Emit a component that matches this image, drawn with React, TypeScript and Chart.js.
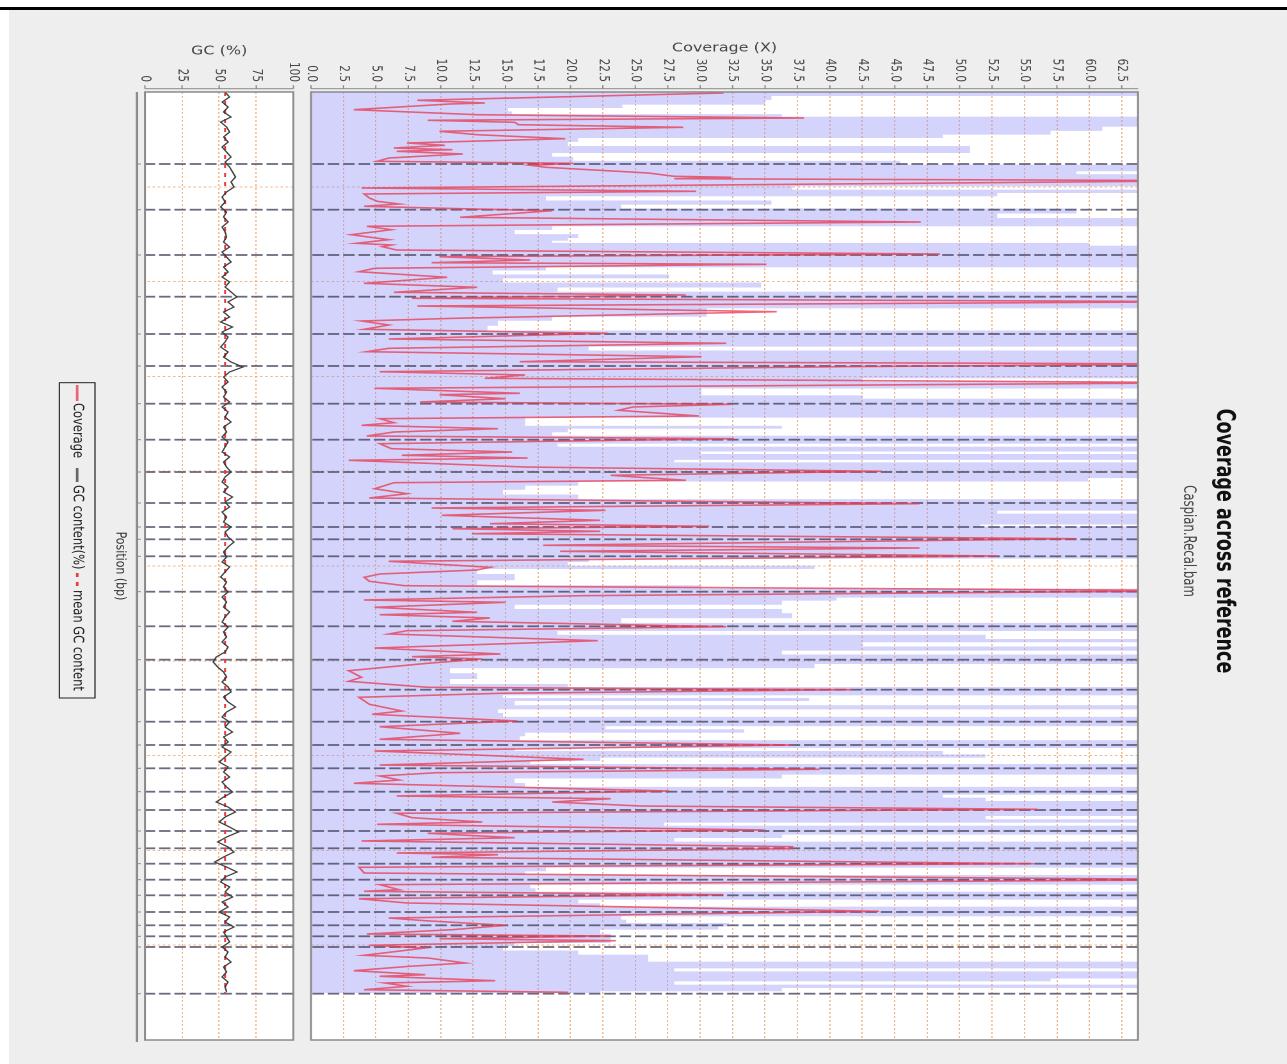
import React, { useEffect, useRef } from "react";
import { Chart, registerables } from "chart.js";

Chart.register(...registerables);

// ---------------- data ----------------
const TITLE = "Coverage across reference";
const SUBTITLE = "Caspian.Recal.bam";
const COVERAGE_AXIS_TITLE = "Coverage (X)";
const GC_AXIS_TITLE = "GC (%)";
const POSITION_AXIS_TITLE = "Position (bp)";
const LEGEND_LABELS = ["Coverage", "GC content(%)", "mean GC content"];

const POSITION_MAX = 948;
const POSITION_GRID_STEP = 95.25;
const COVERAGE_MAX = 63.75;
const COVERAGE_TICK_STEP = 2.5;
const GC_TICK_STEP = 25;
const MEAN_GC = 54;
const DATA_END = 901;

// window positions (arbitrary position units) and mean coverage
const COV_POS = [
  1, 8.3, 11, 12, 17.7, 22.7, 26, 28.3, 30.3, 32.7, 35.3, 39.3, 42.7, 46.7, 51, 53.3, 56, 57.7, 59.3, 62,
  66, 69.3, 71.3, 73.3, 75.3, 81, 84.3, 85.3, 86.7, 88.7, 96, 99.3, 102, 106, 109.3, 112, 114.3, 116.7, 118.7, 125.3,
  130, 134.3, 137.7, 142.7, 147.7,
  151.3, 153, 154.7, 158, 162, 164.7, 168, 170.7, 172.3, 176.3, 179.7, 185.3, 191.3, 195.3, 200.3, 203, 206.3, 209.7, 214, 219.7,
  226.3, 229, 233, 237.3, 241.3, 247, 251.3, 256.3, 259.7, 264.7, 269.7, 272, 274.7, 279.7, 283, 286.3, 290.7, 296.3,
  301.3, 302.7, 306.7, 310, 312.3, 315, 318.3, 324, 326.7, 330.7, 333.3, 336.7, 340, 344, 346.7, 351.7, 356.7, 360, 363.3, 366,
  368.3, 375, 379.3, 383.3, 388.3, 390.7, 396.7, 401.7, 406, 411.7, 416, 418.3, 423.3, 428.3, 431.7, 434.3, 436.7, 439.3, 441.7, 446.7,
  453.3,
  456, 459.3, 464, 469.3, 475.3, 478, 482, 485.3, 489.3, 493.7, 498.7, 503.7, 508, 510.3, 515.3, 520.3, 522.7, 526, 529.3, 534.7,
  538.7, 542, 548.7, 556, 562, 564.7, 567, 571.3, 578.7, 585.3, 589.3, 595.3, 597.7, 601.3, 605.3,
  612.3, 619, 622.3, 629, 634.7, 641.3, 647.3, 653, 659, 667.3, 673, 677.3, 680.7, 684, 688, 691.3, 699, 704, 706.7, 710,
  714, 717.3, 721.3, 725.7, 730, 732.3, 738, 741.3, 745.7, 749, 754.7, 756.7,
  761, 762.7, 765.3, 771.7, 775.3, 781, 787.7, 792.7, 797.7, 799.3, 802.7, 806.7, 811, 819.3, 826, 828.7, 833.3, 837.7, 842, 844,
  846.7, 848.7, 853.3, 856, 863.3, 866, 871, 874.3, 878.7, 882.7, 884.3, 888.7, 891, 894.3, 897.7, 900.3,
];
const COV_MEAN = [
  31.8, 8.2, 13.4, 10.7, 3.3, 12.8, 38, 9.0, 15.7, 16, 28.7, 9.9, 12.8, 19.6, 7.4, 10.3, 6.4, 10.9, 6.6, 11.7,
  6, 5.1, 20.2, 16.9, 18.1, 26, 28, 32.4, 28, 70, 3.9, 29.7, 4.1, 4.5, 5.1, 6.8, 4.1, 11.5, 18.6, 11.5,
  47, 4.3, 6.2, 3.1, 6,
  3.5, 6.2, 5.5, 6.6, 48.5, 9.9, 16.9, 9.3, 35.1, 4.9, 3.7, 10.5, 4.1, 12.8, 6.4, 28.9, 7.8, 70, 8.2, 35.9,
  11.1, 3.9, 6, 4.1, 22.9, 6, 32, 6, 4.3, 30.1, 16.1, 70, 41, 5.3, 16.5, 13.4, 70, 4.9,
  16.1, 9.9, 15, 8.4, 32.4, 24.8, 23.7, 29.9, 5.3, 6.4, 3.9, 14.4, 6.4, 4.3, 32.6, 5.3, 6.2, 15.5, 7, 16.7,
  2.9, 16.5, 44, 23.1, 28.9, 6.4, 4.9, 7.4, 4.5, 46.9, 9.3, 22.7, 10.1, 22.3, 13.8, 30.7, 10.9, 22.3, 12.4, 59,
  17.9,
  46.9, 19.2, 52.9, 6, 13.8, 12.8, 5.3, 4.1, 4.5, 7.2, 70, 20.8, 4.1, 15, 4.9, 12.8, 5.3, 13.8, 10.9, 32,
  7.4, 6, 22.1, 4.9, 14.6, 7.8, 13.2, 9, 2.9, 3.9, 2.9, 9, 41.7, 14.6, 3.7,
  4.5, 7, 4.7, 15.9, 5.3, 11.5, 5.3, 37.1, 4.9, 21, 5.3, 39.2, 9.7, 5.3, 6.8, 3.3, 27.6, 6.6, 23.1, 18.6,
  25.4, 56, 6.6, 7.8, 13.2, 5.1, 34.9, 9, 15.7, 3.9, 37.1, 37.1,
  6.6, 14.4, 9.3, 55.7, 3.7, 4.1, 70, 5.3, 6.8, 4.1, 31.8, 3.7, 7.4, 43.8, 6, 8.8, 15, 10.9, 4.3, 23.1,
  9.9, 23.5, 4.5, 8.8, 4.1, 9, 11.9, 7.6, 3.3, 8.8, 5.3, 14.2, 5.7, 7.4, 4.1, 19.8,
];

// upper edge of the shaded coverage band (mean + std)
const BAND_POS = [
  0, 2.7, 5.3, 11, 14.3, 17.7, 21, 23.3, 26, 32.7, 36.7, 41, 44.3, 47.7, 52, 56, 59.3, 62.7, 66.7, 71,
  74.3, 77.7, 81, 83.3, 92.7, 96, 99.3, 102.7, 106, 111, 114.3, 118.7, 124.3, 127.7, 132.7, 136, 140, 144.3, 147.7,
  149.7, 152, 155.3, 174, 176.7, 180.3, 184.7, 188, 193, 198, 201.3, 214.7, 218, 223, 226.3, 231.3, 236.3, 240.7, 253, 256.3,
  260.7, 284.7, 288, 291.3,
  301.7, 305, 308.3, 324, 327.3, 332.7, 335, 338.3, 342.3, 345, 350, 353.3, 356, 358.3, 360.7, 363.3, 366.7, 369, 371.7, 385,
  387.3, 391.7, 395.7, 400, 405, 409.3, 417.3, 420, 423.3, 431.7, 433.3, 435.7,
  465.3, 468, 472, 475.3, 478.7, 485.3, 491.3, 495.3, 498, 504.3, 507, 510.3, 515.3, 518.7, 523.7, 528.7, 533, 537.7, 540.3, 545.3,
  548.7, 552, 557, 560.3, 564.7, 570.3, 573.7, 578.7, 583.7, 590.3, 593.7, 596.3,
  602, 604.7, 607.3, 610.7, 615.7, 619, 623, 626.7, 632.7, 635.7, 639, 642.3, 646.3, 650, 654.7, 657.3, 660.7, 664, 667.3, 670.7,
  673.3, 681.3, 684, 689, 693, 696.7, 701.3, 704, 707.3, 710.7, 720, 722.3, 725.7, 729, 732.3, 735, 741.3, 744, 748, 751.3,
  759.3, 766, 774.3, 777, 781.7, 784.3, 791, 794.3, 798.3, 801, 806, 809.3, 813.3, 816, 822.7, 826, 829.3, 832.7, 836, 839.3,
  844.3, 849.3, 852.7, 856, 861, 864.3, 868.3, 871, 875, 877.7, 881, 885.3, 887.7, 891, 894.3, 897.7, 901,
];
const BAND_UPPER = [
  80, 80, 35.5, 35, 24, 15.2, 15.5, 36.3, 80, 80, 61, 57, 48.7, 20.6, 19.8, 50.8, 50.8, 18.6, 20.2, 45.4,
  80, 80, 59, 80, 80, 37.1, 80, 52.9, 18.1, 35.5, 23.9, 59, 52.9, 80, 80, 18.6, 15.7, 20.6, 19.8,
  18.6, 60, 80, 80, 18.1, 14, 27.6, 14.8, 34.7, 19, 80, 80, 30.5, 30.5, 18.6, 14.4, 13.6, 80, 80, 21.4,
  80, 80, 42.5, 80,
  30.1, 42.5, 80, 80, 16.5, 16.5, 36.3, 19.8, 18.6, 80, 80, 19, 80, 80, 30, 80, 80, 28, 80, 80,
  59.9, 20.6, 16.5, 14.8, 20.6, 80, 80, 52.9, 80, 80, 51.6, 80,
  80, 21.4, 19.8, 38.8, 12.8, 15.7, 12.8, 30.1, 80, 80, 40.5, 36.3, 15.7, 36.3, 37.1, 23.9, 80, 80, 19, 52,
  80, 42.5, 80, 36.3, 80, 80, 38.8, 10.7, 12.8, 10.7, 19.8, 80,
  80, 14.8, 38.4, 15.7, 80, 14.4, 14.8, 80, 80, 22.7, 33.4, 16.5, 16.1, 80, 80, 15.7, 48.7, 52, 22.3, 16.9,
  80, 80, 36.3, 15.7, 16.5, 80, 80, 48.7, 52, 80, 80, 80, 52, 80, 27.2, 80, 80, 36.3, 28, 80,
  80, 80, 80, 18.1, 16.5, 80, 80, 16.9, 17.3, 80, 80, 20.6, 22.3, 80, 80, 23.9, 24.3, 32.2, 31.4, 22.3,
  23.1, 23.1, 15.7, 14.8, 20.6, 26, 26, 80, 80, 28, 80, 80, 57, 28, 80, 36.3, 22.3,
];

// GC content (%) per window, windows every GC_WINDOW position units
const GC_WINDOW = 5;
const GC_VALUES = [
  54, 57, 52, 56, 53, 58, 51, 55, 57, 53,
  56, 52, 55, 58, 54, 57, 59, 61, 58, 60,
  55, 52, 54, 51, 55, 53, 56, 52, 54, 55,
  53, 57, 52, 55, 58, 53, 56, 52, 57, 54,
  58, 62, 56, 60, 53, 57, 51, 59, 52, 56,
  54, 51, 56, 53, 58, 66, 57, 53, 56, 52,
  55, 53, 57, 52, 56, 54, 58, 53, 55, 52,
  56, 54, 52, 57, 53, 55, 58, 54, 52, 56,
  53, 59, 54, 57, 52, 55, 53, 58, 54, 56,
  60, 56, 53, 55, 52, 57, 54, 51, 55, 53,
  56, 52, 55, 53, 57, 54, 52, 56, 53, 55,
  52, 56, 54, 48, 46, 49, 53, 55, 52, 56,
  58, 53, 56, 61, 55, 52, 57, 54, 59, 53,
  56, 52, 58, 54, 50, 56, 53, 57, 52, 55,
  59, 53, 48, 56, 61, 54, 50, 57, 63, 55,
  49, 56, 60, 53, 47, 55, 62, 54, 51, 57,
  54, 59, 52, 56, 50, 57, 54, 60, 53, 55,
  57, 52, 56, 54, 58, 53, 55, 52, 56, 54,
  55,
];

// reference sequence (contig) boundaries
const CONTIG_BOUNDS = [
  72, 117.7, 163, 204.7, 242, 274, 311.7, 347.7, 380, 411, 435, 447.3, 464.3, 499.7, 534.3, 567.7, 597.7,
  629.7, 653, 676.3, 699.7, 718, 739, 756.3, 771.7, 787.7, 803.3, 820, 833.3, 844.3, 855, 901.7,
];

// ---------------- styles ----------------
const STRETCH = 1.28;
const RED = "rgba(232, 62, 84, 0.78)";
const BAND = "rgba(150, 150, 245, 0.42)";
const GC_LINE = "rgba(55, 55, 55, 0.95)";
const GRID = "rgba(236, 165, 110, 0.8)";
const BOUND = "rgba(70, 70, 95, 0.8)";
const FRAME = "#8a8a8a";
const SANS = "'DejaVu Sans', sans-serif";
const TICK_FONT = { family: SANS, size: 10.5 };
const AXIS_TITLE_FONT = { family: SANS, size: 12.5 };

function paintPlotBackground(chart: any) {
  const { ctx, chartArea: a } = chart;
  ctx.save();
  ctx.fillStyle = "#ffffff";
  ctx.fillRect(a.left, a.top, a.right - a.left, a.bottom - a.top);
  ctx.restore();
}

function drawBounds(chart: any) {
  const { ctx, chartArea: a, scales } = chart;
  ctx.save();
  ctx.beginPath();
  ctx.rect(a.left, a.top, a.right - a.left, a.bottom - a.top);
  ctx.clip();
  ctx.strokeStyle = BOUND;
  ctx.lineWidth = 1.8;
  ctx.setLineDash([9, 3]);
  CONTIG_BOUNDS.forEach((b) => {
    const x = scales.x.getPixelForValue(b);
    ctx.beginPath();
    ctx.moveTo(x, a.top);
    ctx.lineTo(x, a.bottom);
    ctx.stroke();
  });
  ctx.restore();
}

function drawFrameAndAxis(chart: any) {
  const { ctx, chartArea: a, scales } = chart;
  ctx.save();
  ctx.setLineDash([]);
  ctx.strokeStyle = FRAME;
  ctx.lineWidth = 1.5;
  ctx.strokeRect(a.left, a.top, a.right - a.left, a.bottom - a.top);
  const ax = a.left - 3.3;
  ctx.lineWidth = 1;
  ctx.beginPath();
  ctx.moveTo(ax, a.top);
  ctx.lineTo(ax, a.bottom);
  scales.y.ticks.forEach((t: any) => {
    const y = scales.y.getPixelForValue(t.value);
    ctx.moveTo(ax - 3.5, y);
    ctx.lineTo(ax, y);
  });
  ctx.stroke();
  ctx.restore();
}

const coverageDecor = {
  id: "coverageDecor",
  beforeDraw(chart: any) {
    paintPlotBackground(chart);
  },
  afterDatasetDraw(chart: any, args: any) {
    if (args.index === 1) drawBounds(chart);
  },
  afterDraw(chart: any) {
    drawFrameAndAxis(chart);
    const { ctx } = chart;
    ctx.save();
    ctx.textAlign = "center";
    ctx.textBaseline = "middle";
    ctx.fillStyle = "#111";
    ctx.font = "bold 19.5px 'DejaVu Sans Condensed', 'Liberation Sans Narrow', 'Liberation Sans', sans-serif";
    ctx.fillText(TITLE, 531, 49.2);
    ctx.fillStyle = "#444";
    ctx.font = "13px 'DejaVu Sans Condensed', 'Liberation Sans Narrow', 'Liberation Sans', sans-serif";
    ctx.fillText(SUBTITLE, 531, 77.3);
    ctx.restore();
  },
};

const gcDecor = {
  id: "gcDecor",
  beforeDraw(chart: any) {
    paintPlotBackground(chart);
  },
  beforeDatasetsDraw(chart: any) {
    drawBounds(chart);
  },
  afterDraw(chart: any) {
    drawFrameAndAxis(chart);
    const { ctx, chartArea: a, scales } = chart;
    ctx.save();
    // position axis line below the GC panel
    const py = a.bottom + 6.25;
    ctx.strokeStyle = "#8a8a8a";
    ctx.lineWidth = 1.8;
    ctx.beginPath();
    ctx.moveTo(a.left, py);
    ctx.lineTo(a.right + 2, py);
    ctx.stroke();
    ctx.lineWidth = 1;
    ctx.beginPath();
    CONTIG_BOUNDS.forEach((b) => {
      const x = scales.x.getPixelForValue(b);
      ctx.moveTo(x, py - 3);
      ctx.lineTo(x, py);
    });
    ctx.stroke();
    // legend
    const top = 171.25;
    const bottom = 199.1;
    const cy = (top + bottom) / 2;
    ctx.strokeStyle = "#222";
    ctx.lineWidth = 1;
    ctx.strokeRect(372.7, top, 688 - 372.7, bottom - top);
    ctx.font = "11.5px " + SANS;
    ctx.textAlign = "left";
    ctx.textBaseline = "middle";
    ctx.fillStyle = "#222";
    const items = [
      { x0: 375, x1: 391, tx: 393, color: RED, dash: [] as number[], label: LEGEND_LABELS[0] },
      { x0: 458, x1: 472, tx: 475, color: "#666", dash: [] as number[], label: LEGEND_LABELS[1] },
      { x0: 563, x1: 578, tx: 580, color: "rgb(235, 60, 60)", dash: [4, 5], label: LEGEND_LABELS[2] },
    ];
    items.forEach((it) => {
      ctx.strokeStyle = it.color;
      ctx.lineWidth = 2;
      ctx.setLineDash(it.dash);
      ctx.beginPath();
      ctx.moveTo(it.x0, cy);
      ctx.lineTo(it.x1, cy);
      ctx.stroke();
      ctx.setLineDash([]);
      ctx.fillText(it.label, it.tx, cy);
    });
    ctx.restore();
  },
};

function positionScale(height: number, withTitle: boolean, titlePadBottom: number) {
  return {
    type: "linear",
    min: 0,
    max: POSITION_MAX,
    ticks: { display: false, stepSize: POSITION_GRID_STEP, includeBounds: false },
    grid: { color: GRID, drawTicks: false, lineWidth: 1 },
    border: { display: false, dash: [2, 2] },
    title: {
      display: withTitle,
      text: POSITION_AXIS_TITLE,
      color: "#333",
      font: { family: SANS, size: 11 },
      padding: { top: 0, bottom: titlePadBottom },
    },
    afterFit: (s: any) => {
      s.height = height;
    },
  };
}

export default function App() {
  const refA = useRef<HTMLCanvasElement>(null);
  const refB = useRef<HTMLCanvasElement>(null);

  useEffect(() => {
    const covData = COV_POS.map((x, i) => ({ x, y: COV_MEAN[i] }));
    const bandData = BAND_POS.map((x, i) => ({ x, y: BAND_UPPER[i] }));
    const gcData = GC_VALUES.map((y, i) => ({ x: i * GC_WINDOW, y }));
    const meanData = [
      { x: 0, y: MEAN_GC },
      { x: DATA_END, y: MEAN_GC },
    ];

    const chartA = new Chart(refA.current as HTMLCanvasElement, {
      type: "line",
      data: {
        datasets: [
          {
            label: LEGEND_LABELS[0],
            data: covData,
            borderColor: RED,
            borderWidth: 1.6,
            pointRadius: 0,
            fill: false,
            tension: 0,
          },
          {
            label: "Coverage band",
            data: bandData,
            borderColor: "rgba(0,0,0,0)",
            borderWidth: 0,
            backgroundColor: BAND,
            fill: "origin",
            stepped: "middle",
            pointRadius: 0,
          },
        ],
      },
      options: {
        responsive: false,
        animation: false,
        devicePixelRatio: 2,
        events: [],
        layout: { padding: { top: 116.4, right: 24, bottom: 17.5, left: 0 } },
        plugins: { legend: { display: false }, tooltip: { enabled: false }, title: { display: false } },
        scales: {
          x: positionScale(0, false, 0),
          y: {
            type: "linear",
            min: 0,
            max: COVERAGE_MAX,
            ticks: {
              stepSize: COVERAGE_TICK_STEP,
              includeBounds: false,
              autoSkip: false,
              padding: 10,
              color: "#444",
              font: TICK_FONT,
              callback: (v: any) => Number(v).toFixed(1),
            },
            grid: { color: GRID, drawTicks: false, lineWidth: 1 },
            border: { display: false, dash: [2, 2] },
            title: {
              display: true,
              text: COVERAGE_AXIS_TITLE,
              color: "#444",
              font: AXIS_TITLE_FONT,
              padding: { top: 30.5, bottom: 0 },
            },
            afterFit: (s: any) => {
              s.width = 82;
            },
          },
        },
      } as any,
      plugins: [coverageDecor],
    } as any);

    const chartB = new Chart(refB.current as HTMLCanvasElement, {
      type: "line",
      data: {
        datasets: [
          {
            label: LEGEND_LABELS[1],
            data: gcData,
            borderColor: GC_LINE,
            borderWidth: 1.2,
            pointRadius: 0,
            fill: false,
            tension: 0,
          },
          {
            label: LEGEND_LABELS[2],
            data: meanData,
            borderColor: "rgb(235, 60, 60)",
            borderWidth: 1.6,
            borderDash: [4, 5],
            pointRadius: 0,
            fill: false,
          },
        ],
      },
      options: {
        responsive: false,
        animation: false,
        devicePixelRatio: 2,
        events: [],
        layout: { padding: { top: 12.7, right: 24, bottom: 75.8, left: 0 } },
        plugins: { legend: { display: false }, tooltip: { enabled: false }, title: { display: false } },
        scales: {
          x: positionScale(30, true, 3.9),
          y: {
            type: "linear",
            min: 0,
            max: 100,
            ticks: {
              stepSize: GC_TICK_STEP,
              autoSkip: false,
              padding: 10,
              color: "#444",
              font: TICK_FONT,
            },
            grid: { color: GRID, drawTicks: false, lineWidth: 1 },
            border: { display: false, dash: [2, 2] },
            title: {
              display: true,
              text: GC_AXIS_TITLE,
              color: "#444",
              font: AXIS_TITLE_FONT,
              padding: { top: 33.5, bottom: 0 },
            },
            afterFit: (s: any) => {
              s.width = 82;
            },
          },
        },
      } as any,
      plugins: [gcDecor],
    } as any);

    return () => {
      chartA.destroy();
      chartB.destroy();
    };
  }, []);

  return (
    <div style={{ position: "fixed", left: 0, top: 0, width: 1287, height: 1064, background: "#fff", overflow: "hidden" }}>
      <div style={{ position: "absolute", left: 0, top: 7, width: 1287, height: 3, background: "#000" }} />
      <div style={{ position: "absolute", left: 9, top: 10, right: 0, bottom: 0, background: "#eeeeee" }} />
      <div
        style={{
          position: "absolute",
          left: 1287,
          top: 10,
          width: 1054,
          height: 998,
          transformOrigin: "0 0",
          transform: `rotate(90deg) scale(1, ${STRETCH})`,
        }}
      >
        <canvas ref={refA} width={1054} height={780} style={{ position: "absolute", left: 0, top: 0 }} />
        <canvas ref={refB} width={1054} height={238} style={{ position: "absolute", left: 0, top: 760 }} />
      </div>
    </div>
  );
}
